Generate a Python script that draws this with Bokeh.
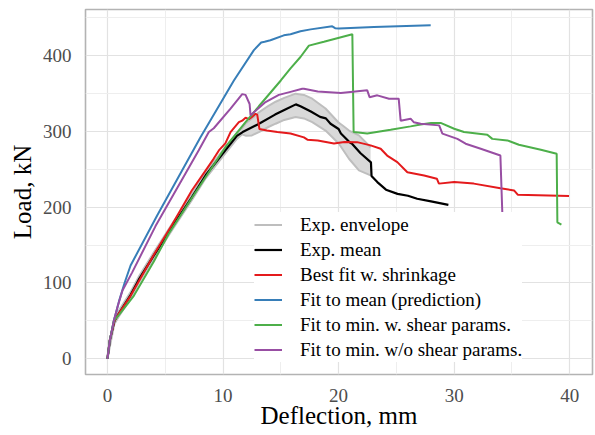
from bokeh.plotting import figure
from bokeh.models import Legend, LegendItem, FixedTicker, Range1d
from bokeh.embed import file_html
from bokeh.resources import INLINE

# ---- data (deflection mm, load kN) ----
env_x = [0, 0.6, 1.0, 2.0, 2.7, 4.0, 5.6, 7.3, 8.5, 10.2, 11.2, 11.66, 12.0, 12.5, 13.1, 13.97, 14.55,
         15.3, 16.28, 17.0, 17.72, 18.87, 20.03, 20.32, 20.9, 21.76, 22.77]
env_hi = [4, 54, 64, 88, 108, 140, 178, 217, 246, 279, 298, 304, 311, 317, 325, 334, 339,
          344, 349.6, 348, 343, 330, 311, 308, 301, 294.6, 279]
env_lo = [0, 46, 56, 80, 100, 132, 170, 209, 238, 271, 290, 296, 294, 294.6, 299, 306, 310,
          315, 318.8, 317, 312, 301, 283.6, 277, 263.8, 248.4, 241.8]

mean_x = [0, 0.2, 0.6, 1.0, 2.0, 2.7, 4.0, 5.6, 7.3, 8.5, 10.2, 11.2, 11.7, 13.0, 14.5, 15.3, 16.3,
          16.7, 17.6, 18.4, 18.9, 19.3, 20.0, 20.2, 21.0, 21.2, 21.9, 22.8, 22.85, 23.35, 24.1, 25.1,
          26.0, 26.8, 28.0, 29.5]
mean_y = [0, 24, 50, 60, 84, 104, 136, 174, 213, 242, 275, 294, 299, 309, 322, 328, 335.5,
          333, 326, 319, 317, 310, 303, 297, 285, 283, 271, 259, 241, 233, 223, 217.5,
          215, 211, 207.5, 203]

shrink_x = [0, 0.2, 0.6, 1.0, 2.0, 4.0, 5.6, 7.3, 9.2, 9.64, 10.2, 10.65, 11.37, 11.66, 11.95, 12.24,
            12.5, 12.8, 12.96, 13.15, 13.8, 14.7, 15.84, 17.0, 17.3, 18.2, 19.6, 20.5, 21.6, 22.77,
            23.64, 24.2, 25.08, 25.95, 27.4, 28.5, 28.68, 30.0, 31.7, 34.0, 35.18, 35.5, 39.94]
shrink_y = [0, 24, 50, 60, 83, 137, 177, 222, 264, 274.8, 284, 299, 312, 314, 318, 316,
            319, 323, 322, 303, 301, 299, 297, 292, 289, 288, 284, 286, 285.7, 281.4,
            277, 268, 259.4, 246, 241.8, 237.5, 231, 233, 231, 225, 222, 216.4, 214.6]

pred_x = [0, 0.2, 0.55, 1.0, 1.5, 2.0, 4.3, 8.05, 10.94, 12.67, 13.3, 13.6, 14.1, 15.26, 15.84,
          16.7, 17.58, 19.45, 19.7, 20.03, 23.06, 27.97]
pred_y = [0, 24, 50, 76, 101, 123, 189, 292, 367, 407, 417, 418, 420, 426.5, 428,
          432, 434.4, 438.4, 436, 435.4, 437.5, 439.7]

shear_x = [0, 0.2, 0.55, 1.0, 2.28, 4.0, 5.3, 7.3, 10.2, 11.95, 13.1, 15.0, 15.84, 16.7, 17.43,
           18.73, 21.19, 21.3, 22.48, 24.5, 26.23, 27.1, 28.0, 28.83, 30.0, 30.85, 32.87, 33.3,
           34.6, 35.6, 37.5, 38.87, 38.93, 39.28]
shear_y = [0, 24, 50, 58, 83, 128, 165, 212, 279, 312, 333, 367, 383, 398, 413,
           418, 428, 299, 297, 302, 306.5, 309, 311, 311, 303.4, 299, 295.5, 290,
           288, 282.3, 275.7, 270.4, 180, 177]

noshear_x = [0, 0.2, 0.55, 0.9, 1.3, 2.14, 4.16, 7.9, 8.77, 9.2, 10.65, 11.66, 11.95, 12.3, 12.38,
             12.67, 13.68, 14.83, 15.84, 16.85, 17.0, 18.2, 20.2, 22.48, 22.68, 23.35, 24.36, 25.2,
             25.37, 26.23, 26.5, 27.1, 28.7, 28.98, 30.28, 30.99, 32.3, 34.0, 34.17]
noshear_y = [0, 24, 50, 70, 90, 114, 175, 275, 299, 304, 330, 349, 348, 336, 321,
             325, 338.5, 348, 352, 356, 356, 352.6, 350.4, 354, 345, 347.4, 343, 343,
             314, 316.6, 312, 310, 307.8, 297, 290, 283.6, 277, 268, 191]

labels = ["Exp. envelope", "Exp. mean", "Best fit w. shrinkage", "Fit to mean (prediction)",
          "Fit to min. w. shear params.", "Fit to min. w/o shear params."]
x_ticks = [0, 10, 20, 30, 40]
y_ticks = [0, 100, 200, 300, 400]

FONT = "Liberation Serif"

p = figure(frame_width=507, frame_height=365,
           x_range=Range1d(-1.90, 41.97), y_range=Range1d(-20.7, 460.6),
           output_backend="svg", toolbar_location=None,
           min_border_left=85, min_border_right=2, min_border_top=9, min_border_bottom=60,
           background_fill_color="white", border_fill_color="white")

p.outline_line_color = "#B3B3B3"
p.outline_line_width = 1.6

p.xaxis.ticker = FixedTicker(ticks=x_ticks, minor_ticks=[5, 15, 25, 35])
p.yaxis.ticker = FixedTicker(ticks=y_ticks, minor_ticks=[50, 150, 250, 350, 450])
p.xgrid.ticker = p.xaxis.ticker
p.ygrid.ticker = p.yaxis.ticker
for g in (p.xgrid, p.ygrid):
    g.grid_line_color = "#E2E2E2"
    g.grid_line_width = 1.2
    g.minor_grid_line_color = "#EEEEEE"
    g.minor_grid_line_width = 1.0

for ax in (p.xaxis, p.yaxis):
    ax.axis_line_color = None
    ax.major_tick_line_color = None
    ax.minor_tick_line_color = None
    ax.major_label_text_font = FONT
    ax.major_label_text_font_size = "19px"
    ax.major_label_text_color = "#4D4D4D"
    ax.axis_label_text_font = FONT
    ax.axis_label_text_font_size = "25px"
    ax.axis_label_text_font_style = "normal"
    ax.axis_label_text_color = "black"
    ax.major_tick_out = 0
    ax.major_tick_in = 0

p.xaxis.axis_label = "Deflection, mm"
p.yaxis.axis_label = "Load, kN"
p.xaxis.major_label_standoff = 10
p.yaxis.major_label_standoff = 10
p.xaxis.axis_label_standoff = -3
p.yaxis.axis_label_standoff = 4

p.varea(x=env_x, y1=env_lo, y2=env_hi, fill_color="#D9D9D9", fill_alpha=1.0)
r_env = p.line(env_x, env_hi, line_color="#BEBEBE", line_width=2)
p.line(env_x, env_lo, line_color="#BEBEBE", line_width=2)
r_mean = p.line(mean_x, mean_y, line_color="black", line_width=2.2)
r_shr = p.line(shrink_x, shrink_y, line_color="#E41A1C", line_width=2)
r_pred = p.line(pred_x, pred_y, line_color="#377EB8", line_width=2)
r_sh = p.line(shear_x, shear_y, line_color="#4DAF4A", line_width=2)
r_nsh = p.line(noshear_x, noshear_y, line_color="#984EA3", line_width=2)

rends = [r_env, r_mean, r_shr, r_pred, r_sh, r_nsh]
legend = Legend(items=[LegendItem(label=l, renderers=[r]) for l, r in zip(labels, rends)],
                location=(169, 12), padding=2, spacing=0, margin=0,
                label_height=25, glyph_height=25, glyph_width=28, label_standoff=18,
                background_fill_color="white", background_fill_alpha=1.0,
                border_line_color=None,
                label_text_font=FONT, label_text_font_size="19px", label_text_color="black")
p.add_layout(legend)

open("out.html", "w").write(file_html(p, INLINE))
